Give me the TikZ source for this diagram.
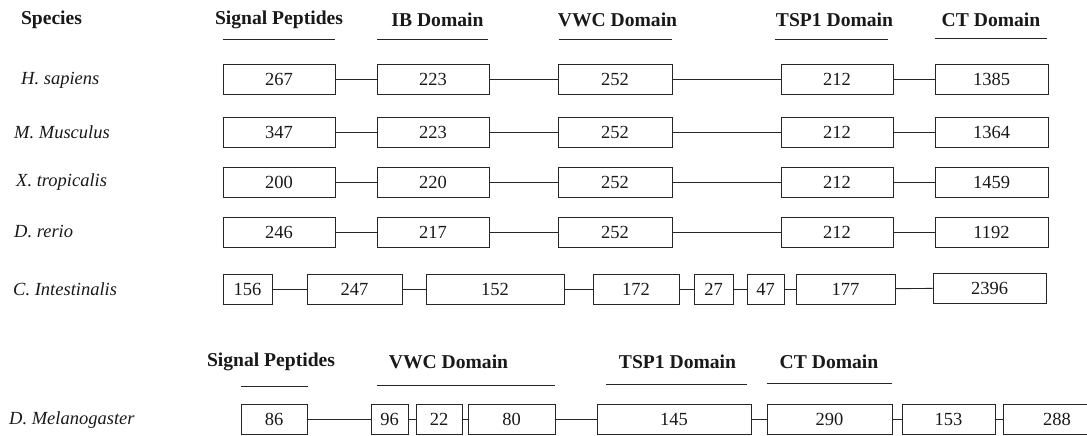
\documentclass[tikz,border=0pt]{standalone}
\usepackage{fontspec}
\setmainfont{Liberation Serif}
\begin{document}
\begin{tikzpicture}[x=1pt,y=-1pt,
  every node/.style={text=black!90},
  dbox/.style={draw=black!85,line width=0.9pt,minimum height=30pt,inner sep=0pt,font=\fontsize{18.5}{20}\selectfont},
  hdr/.style={font=\bfseries\fontsize{19.6}{21}\selectfont,inner sep=0pt},
  spc/.style={font=\itshape\fontsize{18.5}{20}\selectfont,inner sep=0pt,anchor=west},
  uline/.style={draw=black!85,line width=0.9pt},
  conn/.style={draw=black!85,line width=0.9pt}]
\useasboundingbox (0,0) rectangle (1087,436);
% top headers
\node[hdr] (hsp) at (51.5,20) {Species};
\node[hdr] (hsig) at (279,20) {Signal Peptides};
\node[hdr] (hib) at (437.5,20) {IB Domain};
\node[hdr] (hvwc) at (617.5,20) {VWC Domain};
\node[hdr] (htsp) at (834.5,20) {TSP1 Domain};
\node[hdr] (hct) at (991,20) {CT Domain};
\draw[uline] (223,39) -- (335,39);
\draw[uline] (377,39) -- (488,39);
\draw[uline] (559,39) -- (672,39);
\draw[uline] (775,39) -- (888,39);
\draw[uline] (935,38) -- (1047,38);
% species labels
\node[spc] (s1) at (21,80) {H. sapiens};
\node[spc] (s2) at (14,132) {M. Musculus};
\node[spc] (s3) at (16,182) {X. tropicalis};
\node[spc] (s4) at (14,232) {D. rerio};
\node[spc] (s5) at (13,289) {C. Intestinalis};
\node[spc] (s6) at (9,420) {D. Melanogaster};
% rows 1-4
\foreach \r/\y/\a/\b/\c/\d/\e in {1/79/267/223/252/212/1385, 2/132/347/223/252/212/1364, 3/182/200/220/252/212/1459, 4/232/246/217/252/212/1192}{
  \node[dbox,minimum width=112pt] (r\r a) at (279,\y) {\a};
  \node[dbox,minimum width=112pt] (r\r b) at (433,\y) {\b};
  \node[dbox,minimum width=114pt] (r\r c) at (615,\y) {\c};
  \node[dbox,minimum width=112pt] (r\r d) at (837,\y) {\d};
  \node[dbox,minimum width=113pt] (r\r e) at (991.5,\y) {\e};
  \draw[conn] (r\r a) -- (r\r b);
  \draw[conn] (r\r b) -- (r\r c);
  \draw[conn] (r\r c) -- (r\r d);
  \draw[conn] (r\r d) -- (r\r e);
}
% row 5
\node[dbox,minimum width=49pt] (c1) at (247.5,289) {156};
\node[dbox,minimum width=95pt] (c2) at (354.5,289) {247};
\node[dbox,minimum width=138pt] (c3) at (495,289) {152};
\node[dbox,minimum width=86pt] (c4) at (636,289) {172};
\node[dbox,minimum width=39pt] (c5) at (713.5,289) {27};
\node[dbox,minimum width=37pt] (c6) at (765.5,289) {47};
\node[dbox,minimum width=99pt] (c7) at (845.5,289) {177};
\node[dbox,minimum width=113pt] (c8) at (989.5,288) {2396};
\draw[conn] (c1) -- (c2);
\draw[conn] (c2) -- (c3);
\draw[conn] (c3) -- (c4);
\draw[conn] (c4) -- (c5);
\draw[conn] (c5) -- (c6);
\draw[conn] (c6) -- (c7);
\draw[conn] (c7) -- (c8);
% lower headers
\node[hdr] (lsig) at (271,362) {Signal Peptides};
\node[hdr] (lvwc) at (448.5,362) {VWC Domain};
\node[hdr] (ltsp) at (677.5,362) {TSP1 Domain};
\node[hdr] (lct) at (829,362) {CT Domain};
\draw[uline] (241,386) -- (308,386);
\draw[uline] (377,385) -- (555,385);
\draw[uline] (606,384) -- (747,384);
\draw[uline] (767,383) -- (892,383);
% row 6
\node[dbox,minimum width=66pt] (d1) at (274,419) {86};
\node[dbox,minimum width=37pt] (d2) at (389.5,419) {96};
\node[dbox,minimum width=46pt] (d3) at (439,419) {22};
\node[dbox,minimum width=87pt] (d4) at (511.5,419) {80};
\node[dbox,minimum width=154pt] (d5) at (674,419) {145};
\node[dbox,minimum width=125pt] (d6) at (829.5,419) {290};
\node[dbox,minimum width=93pt] (d7) at (948.5,419) {153};
\node[dbox,minimum width=108pt] (d8) at (1057,419) {288};
\draw[conn] (d1) -- (d2);
\draw[conn] (d2) -- (d3);
\draw[conn] (d3) -- (d4);
\draw[conn] (d4) -- (d5);
\draw[conn] (d5) -- (d6);
\draw[conn] (d6) -- (d7);
\draw[conn] (d7) -- (d8);
\end{tikzpicture}
\end{document}
